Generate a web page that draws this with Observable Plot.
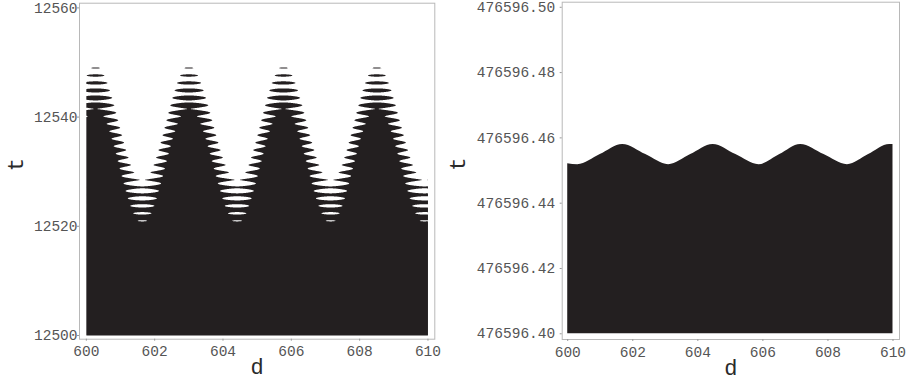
<!DOCTYPE html>
<html>
<head>
<meta charset="utf-8">
<script src="https://cdn.jsdelivr.net/npm/d3@7"></script>
<script src="https://cdn.jsdelivr.net/npm/@observablehq/plot@0.6"></script>
<style>
  body { margin: 0; background: #fff; }
  #wrap { display: flex; width: 910px; height: 383px; }
</style>
</head>
<body>
<div id="wrap"></div>
<script>
// ---- tick labels ----
const xTicks = [600, 602, 604, 606, 608, 610];
const leftYTicks = [12500, 12520, 12540, 12560];
const rightYTicks = [476596.40, 476596.42, 476596.44, 476596.46, 476596.48, 476596.50];
const axisNames = { x: "d", y: "t" };

// ---- left panel: comb-edged region ----
// positions (d) of envelope crests and hollows, incl. one beyond each edge
const leftCrestD  = [600.27, 603.00, 605.77, 608.50, 611.27];
const leftHollowD = [598.90, 601.64, 604.42, 607.15, 609.90];
const leftEnvHigh = 12545.5;   // envelope level at crests
const leftEnvLow  = 12524.4;   // envelope level at hollows
const stripeAmp = 4.0;         // half depth of the comb teeth (t units)
const stripePeriod = 1.366;    // spacing of the stripes (t units)
const stripeTopRow = 12549.0;  // t of the topmost black stripe
const leftBase = 12500;
const leftTop = 12560;

// ---- right panel: wavy top edge ----
const rightD = [600.00, 600.31, 601.00, 601.69, 602.40, 603.10, 603.78, 604.47, 605.17,
                605.88, 606.52, 607.16, 607.88, 608.60, 609.25, 609.90, 610.00];
const rightT = [476596.4521, 476596.4518, 476596.4549, 476596.4580, 476596.4549, 476596.4518,
                476596.4549, 476596.4580, 476596.4549, 476596.4518, 476596.4549, 476596.4580,
                476596.4549, 476596.4518, 476596.4549, 476596.4580, 476596.4580];
const rightBase = 476596.40;

const ink = "#231f20";
const fontFam = "'Liberation Mono', 'Courier New', monospace";

// envelope through the read crests / hollows (smooth half-cosine between extrema)
const extrema = [
  ...leftCrestD.map(d => [d, leftEnvHigh]),
  ...leftHollowD.map(d => [d, leftEnvLow])
].sort((a, b) => a[0] - b[0]);
function envelope(d) {
  for (let i = 0; i < extrema.length - 1; i++) {
    const [d0, v0] = extrema[i], [d1, v1] = extrema[i + 1];
    if (d >= d0 && d <= d1) {
      const u = (d - d0) / (d1 - d0);
      return v0 + (v1 - v0) * (1 - Math.cos(Math.PI * u)) / 2;
    }
  }
  return extrema[extrema.length - 1][1];
}

function labels(dxT) {
  return [
    Plot.text([axisNames.x], {text: d => d, frameAnchor: "bottom", dy: 28, lineAnchor: "middle",
      fontSize: 22, fill: "#2a2a2a"}),
    Plot.text([axisNames.y], {text: d => d, frameAnchor: "left", dx: dxT, rotate: -90,
      lineAnchor: "middle", fontSize: 22, fill: "#2a2a2a"})
  ];
}

const left = Plot.plot({
  width: 455, height: 383,
  marginLeft: 79, marginRight: 20.7, marginTop: 2.7, marginBottom: 44.3,
  x: {domain: [599.8, 610.2]},
  y: {domain: [12499.32, 12560.86]},
  style: {fontFamily: fontFam, fontSize: "14.5px", color: "#555", background: "#fff", overflow: "visible"},
  marks: [
    Plot.contour({
      x1: 600, x2: 610, y1: leftBase, y2: leftTop,
      value: (d, t) => envelope(d) + stripeAmp * Math.cos(2 * Math.PI * (t - stripeTopRow) / stripePeriod) - t,
      thresholds: [0], fill: ink, stroke: "none", pixelSize: 0.5
    }),
    Plot.frame({stroke: "#b8b8b8"}),
    Plot.axisX({ticks: xTicks, tickSize: 2, tickPadding: 5, label: null, tickFormat: d3.format("d"), stroke: "#999"}),
    Plot.axisY({ticks: leftYTicks, tickSize: 2, tickPadding: 0, label: null, tickFormat: d3.format("d"), stroke: "#999"}),
    ...labels(-64)
  ]
});

const rightData = rightD.map((d, i) => ({d, t: rightT[i]}));
const right = Plot.plot({
  width: 455, height: 383,
  marginLeft: 106.7, marginRight: 11, marginTop: 1.7, marginBottom: 44,
  x: {domain: [599.83, 610.2]},
  y: {domain: [476596.39825, 476596.50156]},
  style: {fontFamily: fontFam, fontSize: "14.5px", color: "#555", background: "#fff", overflow: "visible"},
  marks: [
    Plot.areaY(rightData, {x: "d", y1: () => rightBase, y2: "t", curve: "monotone-x", fill: ink}),
    Plot.frame({stroke: "#b8b8b8"}),
    Plot.axisX({ticks: xTicks, tickSize: 2, tickPadding: 5, label: null, tickFormat: d3.format("d"), stroke: "#999"}),
    Plot.axisY({ticks: rightYTicks, tickSize: 2, tickPadding: 5, label: null, tickFormat: d3.format(".2f"), stroke: "#999"}),
    ...labels(-104)
  ]
});

document.getElementById("wrap").append(left, right);
</script>
</body>
</html>
